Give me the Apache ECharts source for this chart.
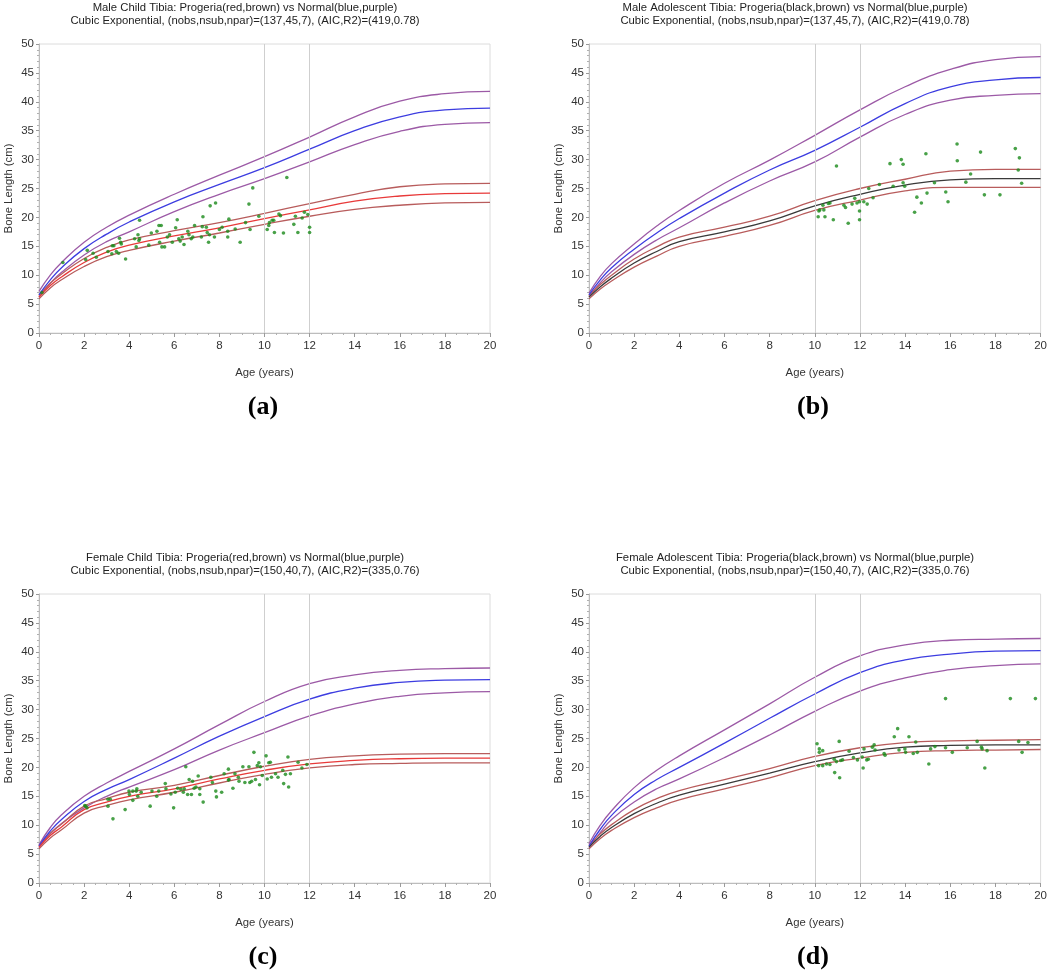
<!DOCTYPE html>
<html><head><meta charset="utf-8">
<script src="https://cdn.jsdelivr.net/npm/echarts@6/dist/echarts.min.js"></script>
<style>html,body{margin:0;padding:0;background:#fff}#c{width:1050px;height:974px}</style>
</head><body><div id="c"></div>
<script>
// Knot ages (years) at which curves were read
var ages = [0, 0.5, 1, 2, 3, 4, 6, 8, 10, 12, 14, 16, 18, 20];
var refLines = [10, 12];
var xTicks = [0, 20, 2];
var yTicks = [0, 50, 5];

var titlesA = ['Male Child Tibia: Progeria(red,brown) vs Normal(blue,purple)', 'Cubic Exponential, (nobs,nsub,npar)=(137,45,7), (AIC,R2)=(419,0.78)'];
var titlesB = ['Male Adolescent Tibia: Progeria(black,brown) vs Normal(blue,purple)', 'Cubic Exponential, (nobs,nsub,npar)=(137,45,7), (AIC,R2)=(419,0.78)'];
var titlesC = ['Female Child Tibia: Progeria(red,brown) vs Normal(blue,purple)', 'Cubic Exponential, (nobs,nsub,npar)=(150,40,7), (AIC,R2)=(335,0.76)'];
var titlesD = ['Female Adolescent Tibia: Progeria(black,brown) vs Normal(blue,purple)', 'Cubic Exponential, (nobs,nsub,npar)=(150,40,7), (AIC,R2)=(335,0.76)'];
var panelLabels = ['(a)', '(b)', '(c)', '(d)'];

// Panel (a)
var normUpA  = [7.2, 10.0, 12.2, 15.7, 18.3, 20.4, 24.0, 27.3, 30.5, 33.9, 37.4, 40.1, 41.4, 41.8];
var normMidA = [6.6, 9.2, 11.3, 14.6, 17.1, 19.2, 22.7, 25.7, 28.6, 31.8, 35.0, 37.4, 38.6, 38.9];
var normLoA  = [6.2, 8.6, 10.5, 13.5, 15.8, 17.5, 21.0, 24.0, 26.7, 29.6, 32.6, 34.9, 36.1, 36.4];
var proUpA   = [6.5, 8.6, 10.2, 12.9, 14.8, 16.1, 17.7, 19.1, 20.7, 22.4, 24.0, 25.3, 25.8, 25.9];
var proMidA  = [6.2, 8.2, 9.7, 12.2, 14.0, 15.2, 16.8, 18.2, 19.8, 21.3, 22.8, 23.7, 24.1, 24.2];
var proLoA   = [5.9, 7.8, 9.2, 11.5, 13.2, 14.3, 15.9, 17.3, 18.8, 20.2, 21.4, 22.1, 22.5, 22.6];
var obsAgeA = [0.13,1.06,2.14,2.07,2.4,2.54,3.06,3.25,3.32,3.23,3.43,3.53,3.57,3.62,3.65,3.84,4.24,4.31,4.39,4.43,4.46,4.46,4.87,4.98,5.23,5.32,5.42,5.35,5.45,5.57,5.69,5.79,5.91,6.06,6.13,6.2,6.26,6.35,6.43,6.6,6.65,6.75,6.82,6.9,7.2,7.24,7.27,7.42,7.46,7.52,7.56,7.59,7.78,7.83,8.0,8.12,8.37,8.42,8.37,8.7,8.92,9.16,9.31,9.36,9.48,9.75,10.12,10.19,10.22,10.34,10.41,10.44,10.64,10.71,10.84,10.99,11.3,11.37,11.48,11.67,11.77,11.92,12.0,12.0];
var obsLenA = [7.0,12.2,14.3,12.7,13.8,13.1,14.1,15.1,15.1,13.7,14.1,13.8,16.4,15.7,15.4,12.8,16.3,14.9,17.0,16.0,16.3,19.5,15.2,17.3,17.6,18.6,18.6,15.7,14.9,14.9,16.6,17.0,15.7,18.2,19.6,16.3,15.9,16.6,15.3,17.6,17.0,16.3,16.6,18.6,16.6,18.4,20.1,18.3,17.4,15.7,17.0,22.0,16.6,22.5,17.9,18.3,16.6,19.7,17.6,18.0,15.7,19.1,22.3,17.9,25.1,20.2,17.9,18.6,19.1,19.5,19.5,17.4,20.6,20.3,17.3,26.9,18.8,20.2,17.4,19.9,20.9,20.5,18.3,17.4];

// Panel (b)
var normUpB  = [6.9, 9.8, 12.0, 15.4, 18.5, 21.2, 25.9, 29.9, 34.2, 38.6, 42.6, 45.6, 47.3, 47.8];
var normMidB = [6.6, 9.2, 11.3, 14.5, 17.3, 19.8, 24.2, 28.2, 31.6, 35.6, 39.7, 42.6, 43.8, 44.2];
var normLoB  = [6.3, 8.7, 10.6, 13.6, 16.1, 18.2, 22.5, 26.3, 29.6, 33.9, 37.8, 40.3, 41.1, 41.4];
var proUpB   = [6.5, 8.4, 10.0, 12.8, 14.9, 16.6, 18.3, 20.2, 22.9, 25.0, 26.6, 28.0, 28.3, 28.3];
var proMidB  = [6.2, 8.0, 9.5, 12.1, 14.1, 15.8, 17.5, 19.4, 22.0, 24.0, 25.6, 26.5, 26.7, 26.7];
var proLoB   = [5.9, 7.6, 9.0, 11.4, 13.3, 15.0, 16.7, 18.6, 21.2, 23.0, 24.6, 25.2, 25.2, 25.2];
var obsAgeB = [10.96,10.15,10.18,10.22,10.36,10.4,10.45,10.6,10.67,10.82,11.29,11.36,11.48,11.65,11.77,11.87,11.98,11.98,11.98,12.17,12.32,12.39,12.58,12.86,13.33,13.47,13.83,13.91,13.91,13.98,14.42,14.52,14.72,14.92,14.97,15.3,15.8,15.9,16.31,16.3,16.69,16.9,17.34,17.51,18.2,18.88,19.01,19.06,19.16];
var obsLenB = [28.9,20.1,21.1,21.3,22.1,21.3,20.1,22.4,22.5,19.6,22.1,21.7,19.0,22.3,23.3,22.5,22.7,21.1,19.6,22.7,22.3,25.0,23.4,25.7,29.3,25.4,30.0,29.2,26.0,25.4,20.9,23.5,22.5,31.0,24.2,26.0,24.4,22.7,29.8,32.7,26.1,27.5,31.3,23.9,23.9,31.9,28.2,30.3,25.9];

// Panel (c)
var normUpC  = [6.6, 9.6, 11.8, 15.0, 17.3, 19.3, 23.2, 27.4, 31.4, 34.5, 36.0, 36.8, 37.1, 37.2];
var normMidC = [6.4, 9.0, 11.0, 14.1, 16.2, 17.9, 21.6, 25.4, 28.8, 31.8, 33.7, 34.7, 35.1, 35.2];
var normLoC  = [6.1, 8.5, 10.3, 13.0, 15.0, 16.6, 19.6, 23.0, 26.0, 28.9, 31.0, 32.3, 32.9, 33.1];
var proUpC   = [6.4, 8.6, 10.2, 13.3, 14.6, 15.7, 16.9, 18.6, 20.2, 21.4, 22.0, 22.3, 22.4, 22.4];
var proMidC  = [6.2, 8.2, 9.7, 12.7, 14.0, 15.0, 16.3, 18.0, 19.5, 20.6, 21.2, 21.5, 21.6, 21.6];
var proLoC   = [5.9, 7.8, 9.2, 12.1, 13.4, 14.4, 15.7, 17.3, 18.8, 19.9, 20.5, 20.7, 20.8, 20.8];
var obsAgeC = [2.07,2.13,2.03,3.06,3.16,3.06,3.28,3.82,3.99,4.01,4.16,4.31,4.16,4.34,4.38,4.53,4.93,5.01,5.22,5.31,5.6,5.63,5.85,5.97,6.04,6.15,6.29,6.4,6.44,6.51,6.59,6.66,6.76,6.81,6.88,6.96,7.06,7.13,7.13,7.28,7.62,7.69,7.84,7.87,8.1,8.21,8.4,8.4,8.43,8.6,8.69,8.84,8.87,9.04,9.13,9.31,9.35,9.43,9.53,9.6,9.68,9.75,9.78,9.82,9.9,10.07,10.12,10.19,10.26,10.31,10.49,10.6,10.81,10.85,10.93,11.04,11.07,11.15,11.49,11.66,11.88];
var obsLenC = [13.3,13.0,13.4,14.5,14.5,13.3,11.1,12.7,15.9,15.3,15.9,15.9,14.3,16.3,15.0,15.7,13.3,15.9,15.0,15.9,17.2,16.3,15.4,13.0,15.7,16.4,16.2,15.7,16.3,20.1,15.3,17.9,15.3,17.6,16.4,16.6,18.5,15.3,16.3,14.0,18.3,17.4,15.9,14.9,15.7,18.9,19.7,17.8,17.9,16.4,18.9,18.3,17.6,20.1,17.4,20.1,17.4,17.6,22.6,17.9,20.3,20.8,17.0,20.1,18.6,22.0,18.0,20.8,20.9,18.3,18.9,18.3,19.5,17.2,18.8,21.8,16.6,18.9,20.9,19.9,20.5];

// Panel (d)
var normUpD  = [6.8, 10.0, 12.5, 16.5, 19.5, 22.0, 26.5, 31.0, 35.6, 39.3, 41.2, 42.0, 42.2, 42.3];
var normMidD = [6.4, 9.3, 11.7, 15.3, 17.9, 20.0, 24.2, 28.5, 32.7, 36.4, 38.6, 39.6, 40.1, 40.2];
var normLoD  = [6.1, 8.7, 11.0, 14.0, 16.3, 18.0, 21.7, 25.6, 29.7, 33.2, 35.5, 36.9, 37.6, 37.9];
var proUpD   = [6.5, 8.5, 10.1, 12.7, 14.6, 16.0, 17.9, 19.8, 21.9, 23.4, 24.3, 24.6, 24.7, 24.8];
var proMidD  = [6.2, 8.1, 9.6, 12.0, 13.8, 15.2, 17.1, 19.0, 21.0, 22.5, 23.5, 23.8, 23.9, 23.9];
var proLoD   = [5.9, 7.7, 9.1, 11.3, 13.0, 14.4, 16.3, 18.2, 20.3, 21.6, 22.6, 22.9, 23.0, 23.1];
var obsAgeD = [10.1,10.2,10.2,10.35,10.17,10.35,10.52,10.67,10.86,10.88,10.96,11.08,11.1,11.15,11.23,11.52,11.71,11.89,12.1,12.14,12.18,12.3,12.37,12.55,12.63,12.67,13.07,13.11,13.52,13.67,13.73,13.99,14.02,14.17,14.36,14.47,14.54,15.05,15.13,15.32,15.79,15.79,16.09,16.75,17.19,17.38,17.41,17.53,17.63,18.66,19.03,19.18,19.44,19.77];
var obsLenD = [24.1,23.2,22.6,22.9,20.3,20.3,20.6,20.5,21.4,19.1,21.0,24.5,18.2,21.2,21.3,22.8,21.7,21.3,21.8,19.9,23.2,21.3,21.4,23.5,23.9,23.0,22.4,22.1,25.3,26.7,23.0,23.2,22.6,25.3,22.4,24.4,22.6,20.6,23.2,23.6,31.9,23.4,22.6,23.4,24.5,23.5,23.2,19.9,22.9,31.9,24.5,22.6,24.3,31.9];

var C_BLUE = '#3d3de0', C_PURPLE = '#9c5aa6', C_RED = '#e83a3a', C_BROWN = '#b85c5c', C_BLACK = '#3a3a3a', C_GREEN = '#1a8a1a';

var panels = [
  {t: titlesA, nu: normUpA, nm: normMidA, nl: normLoA, pu: proUpA, pm: proMidA, pl: proLoA, ox: obsAgeA, oy: obsLenA, pc: C_RED},
  {t: titlesB, nu: normUpB, nm: normMidB, nl: normLoB, pu: proUpB, pm: proMidB, pl: proLoB, ox: obsAgeB, oy: obsLenB, pc: C_BLACK},
  {t: titlesC, nu: normUpC, nm: normMidC, nl: normLoC, pu: proUpC, pm: proMidC, pl: proLoC, ox: obsAgeC, oy: obsLenC, pc: C_RED},
  {t: titlesD, nu: normUpD, nm: normMidD, nl: normLoD, pu: proUpD, pm: proMidD, pl: proLoD, ox: obsAgeD, oy: obsLenD, pc: C_BLACK}
];

function pairs(xs, ys) { return xs.map(function (x, i) { return [x, ys[i]]; }); }

var FONT = 'Liberation Sans, Arial, sans-serif';
var grids = [], xAxes = [], yAxes = [], series = [], titles = [];
var gx = [39, 589], gy = [44, 594];

panels.forEach(function (p, i) {
  var col = i % 2, row = Math.floor(i / 2);
  var left = gx[col], top = gy[row];
  grids.push({left: left, top: top, width: col ? 453 : 451, height: 289, show: true, borderColor: '#dcdcdc', borderWidth: 1, backgroundColor: 'transparent'});
  xAxes.push({
    type: 'value', gridIndex: i, min: xTicks[0], max: xTicks[1], interval: xTicks[2],
    name: 'Age (years)', nameLocation: 'middle', nameGap: 34,
    nameTextStyle: {fontFamily: FONT, fontSize: 11.3, color: '#333'},
    axisLine: {show: true, lineStyle: {color: '#bdbdbd'}},
    axisTick: {show: true, length: 4, lineStyle: {color: '#9a9a9a'}},
    minorTick: {show: true, splitNumber: 4, length: 2, lineStyle: {color: '#b0b0b0'}},
    splitLine: {show: false},
    axisLabel: {fontFamily: FONT, fontSize: 11.5, color: '#333', margin: 7}
  });
  yAxes.push({
    type: 'value', gridIndex: i, min: yTicks[0], max: yTicks[1], interval: yTicks[2],
    name: 'Bone Length (cm)', nameLocation: 'middle', nameGap: 25,
    nameTextStyle: {fontFamily: FONT, fontSize: 11.3, color: '#333'},
    axisLine: {show: true, lineStyle: {color: '#bdbdbd'}},
    axisTick: {show: true, length: 3, lineStyle: {color: '#9a9a9a'}},
    minorTick: {show: true, splitNumber: 5, length: 2, lineStyle: {color: '#b0b0b0'}},
    splitLine: {show: false},
    axisLabel: {fontFamily: FONT, fontSize: 11.5, color: '#333', margin: 5}
  });
  var mk = function (ys, color, w, z) {
    return {type: 'line', xAxisIndex: i, yAxisIndex: i, data: pairs(ages, ys), showSymbol: false, symbol: 'none',
      smooth: 0.5, lineStyle: {color: color, width: w}, z: z, silent: true, animation: false};
  };
  series.push({
    type: 'scatter', xAxisIndex: i, yAxisIndex: i, data: pairs(p.ox, p.oy), symbol: 'circle', symbolSize: 3.6,
    itemStyle: {color: C_GREEN}, z: 5, animation: false,
    markLine: {silent: true, symbol: 'none', label: {show: false}, animation: false,
      lineStyle: {color: '#cfcfcf', type: 'solid', width: 1},
      data: refLines.map(function (v) { return {xAxis: v}; })}
  });
  series.push(mk(p.nu, C_PURPLE, 1.3, 3));
  series.push(mk(p.nl, C_PURPLE, 1.3, 3));
  series.push(mk(p.nm, C_BLUE, 1.3, 4));
  series.push(mk(p.pu, C_BROWN, 1.3, 3));
  series.push(mk(p.pl, C_BROWN, 1.3, 3));
  series.push(mk(p.pm, p.pc, 1.3, 4));
  titles.push({text: p.t.join('\n'), left: 245 + col * 550, top: top - 43, textAlign: 'center', padding: 0,
    textStyle: {fontFamily: FONT, fontSize: 11.3, fontWeight: 'normal', color: '#222', lineHeight: 13}});
  titles.push({text: panelLabels[i], left: 263 + col * 550, top: top + 350, textAlign: 'center', padding: 0,
    textStyle: {fontFamily: 'Liberation Serif, Times New Roman, serif', fontSize: 26, fontWeight: 'bold', color: '#000'}});
});

var chart = echarts.init(document.getElementById('c'), null, {renderer: 'canvas'});
chart.setOption({animation: false, backgroundColor: '#fff', title: titles, grid: grids, xAxis: xAxes, yAxis: yAxes, series: series});
</script></body></html>
